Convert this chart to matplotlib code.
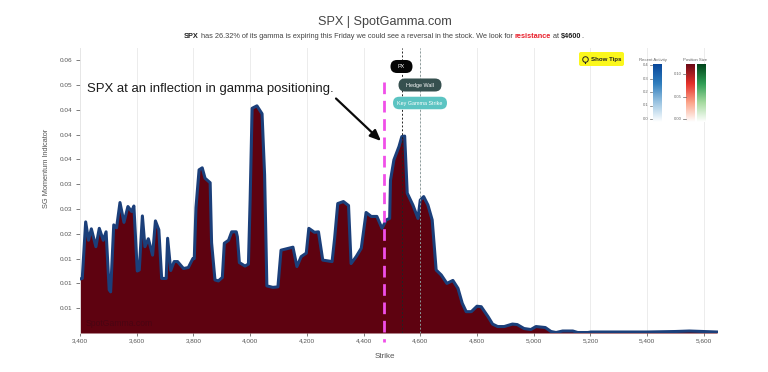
import numpy as np
import matplotlib
matplotlib.use('Agg')
import matplotlib.pyplot as plt
from matplotlib.colors import LinearSegmentedColormap
from matplotlib.patches import FancyBboxPatch

plt.rcParams['font.family'] = ['Liberation Sans', 'DejaVu Sans']

# Werte
strikes = [3400, 3408, 3420, 3430, 3440, 3456, 3468, 3482, 3492, 3503, 3508, 3519, 3529, 3541, 3555, 3569,
           3582, 3590, 3602, 3609, 3620, 3629, 3641, 3656, 3666, 3678, 3688, 3704, 3709, 3720, 3732, 3744,
           3765, 3782, 3798, 3803, 3809, 3820, 3831, 3841, 3859, 3864, 3876, 3888, 3902, 3909, 3924, 3935,
           3951, 3955, 3962, 3982, 3994, 4000, 4007, 4024, 4042, 4051, 4059, 4080, 4098, 4109, 4151, 4165,
           4180, 4198, 4207, 4227, 4241, 4256, 4289, 4298, 4309, 4329, 4347, 4356, 4374, 4392, 4409, 4427,
           4447, 4465, 4480, 4492, 4495, 4507, 4525, 4535, 4545, 4554, 4574, 4592, 4600, 4612, 4627, 4642,
           4656, 4674, 4694, 4715, 4733, 4748, 4762, 4780, 4800, 4815, 4839, 4855, 4873, 4896, 4925, 4942,
           4966, 4990, 5008, 5041, 5061, 5079, 5102, 5138, 5155, 5191, 5202, 5400, 5500, 5549, 5600, 5647]
momentum = [.0109, .011, .0224, .0187, .021, .0174, .0211, .0187, .0204, .0087, .0083, .0218, .0212, .0263, .0223, .0255,
            .0245, .0256, .0125, .0127, .0236, .0174, .019, .0157, .0226, .0208, .011, .011, .0191, .0126, .0144, .0144,
            .013, .0132, .015, .015, .0253, .0329, .0333, .0312, .0303, .0182, .0107, .0105, .0112, .0181, .0187, .0204,
            .0204, .0194, .0142, .0135, .0139, .0268, .0453, .0458, .0442, .0319, .0095, .0092, .0093, .0167, .0173, .0134,
            .0154, .0161, .0211, .0203, .0204, .0147, .0144, .0191, .0261, .0265, .0257, .014, .0154, .0171, .0243, .0235,
            .0235, .0211, .0228, .0231, .0308, .0349, .0376, .0396, .0397, .0282, .0258, .0231, .0268, .0275, .0258, .0228,
            .0127, .0117, .01, .0106, .009, .006, .0043, .0043, .0054, .0053, .0033, .0018, .0013, .0013, .0018, .0017,
            .0009, .0007, .0013, .0011, .0003, .0001, .0004, .0004, .0001, .0001, .0002, .0002, .0003, .0004, .0003, .0002]

x_ticks = [3400, 3600, 3800, 4000, 4200, 4400, 4600, 4800, 5000, 5200, 5400, 5600]
y_ticks = [.005, .01, .015, .02, .025, .03, .035, .04, .045, .05, .055]
y_labels = ['0.01', '0.01', '0.01', '0.02', '0.03', '0.03', '0.04', '0.04', '0.04', '0.05', '0.06']
px_strike = 4535
wall_strike = 4600
activity_ticks = [0.0, 0.1, 0.2, 0.3, 0.4]
size_ticks = [0.0, 0.05, 0.10]

W, H = 768, 372
fig = plt.figure(figsize=(W / 100, H / 100), dpi=100)


def box(x0, y0, x1, y1):
    # Pixel von oben links in Figure-Koordinaten
    return [x0 / W, 1 - y1 / H, (x1 - x0) / W, (y1 - y0) / H]


ax = fig.add_axes(box(80, 48, 718, 333))
ax.set_xlim(3400, 5650)
ax.set_ylim(0, 0.05746)
for s in ['top', 'right', 'bottom']:
    ax.spines[s].set_visible(False)
ax.spines['left'].set_color('#e6e6e6')
ax.spines['left'].set_linewidth(0.6)

ax.fill_between(strikes, momentum, 0, color='#5e0210', lw=0, zorder=2)
ax.plot(strikes, momentum, color='#1b3f7a', lw=2.2, solid_joinstyle='round', zorder=3)
ax.grid(axis='x', color='#ececec', lw=0.7, zorder=0)

ax.set_xticks(x_ticks)
ax.set_xticklabels([f'{v:,}' for v in x_ticks])
ax.set_yticks(y_ticks)
ax.set_yticklabels(y_labels)
ax.tick_params(axis='x', labelsize=4.6, labelcolor='#555555', color='#666666', width=0.6, length=2, pad=2)
ax.tick_params(axis='y', labelsize=4.6, labelcolor='#555555', color='#666666', width=0.6, length=3, pad=2.5)
fig.text(385 / W, 1 - 356 / H, 'Strike', fontsize=5.8, color='#555555', ha='center', va='center')
fig.text(46 / W, 1 - 168 / H, 'SG Momentum Indicator', fontsize=5.3, color='#555555', ha='center', va='center',
         rotation=90)

# Referenzlinien
ax.axvline(px_strike, color='#222222', lw=0.7, ls=(0, (2, 2)), zorder=4)
ax.axvline(wall_strike, color='#8a9a9a', lw=0.7, ls=(0, (2, 2)), zorder=4)
fig.add_artist(plt.Line2D([383.7 / W, 383.7 / W], [1 - 82 / H, 1 - 342 / H], color='#f04fe8', lw=2,
                          ls=(0, (4.2, 2.4)), zorder=6))


def pill(cx, cy, w, h, color, label, fs=3.9, tc='white'):
    fig.add_artist(FancyBboxPatch((cx - w / 2 + h / 2, H - cy), w - h, 0.01,
                                  boxstyle=f'round,pad={h / 2},rounding_size={h / 2}',
                                  transform=None, fc=color, ec='none', zorder=7))
    fig.text(cx / W, 1 - cy / H, label, fontsize=fs, color=tc, ha='center', va='center', zorder=8)


pill(401.5, 66.5, 22, 13, '#050505', 'PX')
pill(420, 85, 43, 13, '#36504f', 'Hedge Wall')
pill(420, 103, 54, 12.5, '#5cc4c2', 'Key Gamma Strike')

# Titel
fig.text(384.5 / W, 1 - 22.5 / H, 'SPX | SpotGamma.com', fontsize=9.1, color='#444444', ha='center', va='center')

parts = [('SPX', '#222222', 'bold'),
         (' has 26.32% of its gamma is expiring this Friday we could see a reversal in the stock. We look for ',
          '#444444', 'normal'),
         ('resistance', '#e8202c', 'bold'),
         (' at ', '#444444', 'normal'),
         ('$4600', '#222222', 'bold'),
         ('.', '#444444', 'normal')]
renderer = fig.canvas.get_renderer()
xpos = 184
for t, c, w in parts:
    fig.text(xpos / W, 1 - 38 / H, t, fontsize=5.32, color=c, weight=w, va='baseline', ha='left')
    # Leerzeichen am Rand zaehlen nicht mit, darum geschuetzt messen
    probe = fig.text(0, 0, t.replace(' ', '\u00a0'), fontsize=5.32, weight=w)
    xpos += probe.get_window_extent(renderer).width
    probe.remove()

# Handschriftliche Notiz
fig.text(87 / W, 1 - 89 / H, 'SPX at an inflection in gamma positioning.', fontsize=9.45, color='#1c1c1c',
         va='center', ha='left', zorder=8)
ax2 = fig.add_axes([0, 0, 1, 1], facecolor='none', zorder=9)
ax2.set_xlim(0, W)
ax2.set_ylim(H, 0)
ax2.axis('off')
ax2.annotate('', xy=(381, 141), xytext=(336, 98.5),
             arrowprops=dict(arrowstyle='-|>,head_width=0.28,head_length=0.65', color='#0a0a0a', lw=1.6,
                             shrinkA=0, shrinkB=0))

# Wasserzeichen im Flaechenteil
fig.text(86 / W, 1 - 323 / H, 'SpotGamma.com', fontsize=6.2, color='#4a0412', va='center', ha='left', zorder=8)

# Show Tips Knopf
fig.add_artist(FancyBboxPatch((581, H - 64), 41, 10, boxstyle='round,pad=2,rounding_size=2', transform=None,
                              fc='#fbf71c', ec='none', zorder=7))
fig.text(606.5 / W, 1 - 59.5 / H, 'Show Tips', fontsize=4.4, weight='bold', color='#222222', ha='center', va='center',
         zorder=8)
ax2.plot([584.5, 584.5], [61.5, 63], color='#222222', lw=0.8)
ax2.plot(584.5, 58.5, marker='o', ms=4, mfc='none', mec='#222222', mew=0.7)

# Legenden-Balken
blue_cm = LinearSegmentedColormap.from_list('b', ['#ffffff', '#9cc5e2', '#2f7dbd', '#08479a'])
red_cm = LinearSegmentedColormap.from_list('r', ['#ffffff', '#fca58a', '#e5302a', '#6b0a16'])
green_cm = LinearSegmentedColormap.from_list('g', ['#ffffff', '#a6dba0', '#2f9e55', '#00441b'])
grad = np.linspace(1, 0, 128).reshape(-1, 1)


def bar(x0, x1, cmap):
    a = fig.add_axes(box(x0, 64, x1, 122), zorder=5)
    a.imshow(grad, aspect='auto', cmap=cmap, extent=[0, 1, 0, 1])
    a.axis('off')


bar(653, 662, blue_cm)
bar(686, 694.5, red_cm)
bar(697, 705.5, green_cm)

for v in activity_ticks:
    y = 119 - v / 0.4 * 54
    ax2.plot([649.5, 652], [y, y], color='#666666', lw=0.5)
    ax2.text(648.5, y, f'{v:.1f}', fontsize=3, color='#666666', ha='right', va='center')
for v in size_ticks:
    y = 119 - v / 0.10 * 45
    ax2.plot([683, 685.5], [y, y], color='#666666', lw=0.5)
    ax2.text(682, y, f'{v:.2f}', fontsize=3, color='#666666', ha='right', va='center')
ax2.text(653, 60, 'Recent Activity', fontsize=3.1, color='#666666', ha='center', va='center')
ax2.text(695, 60, 'Position Size', fontsize=3.1, color='#666666', ha='center', va='center')

fig.savefig('out.png', dpi=100)
